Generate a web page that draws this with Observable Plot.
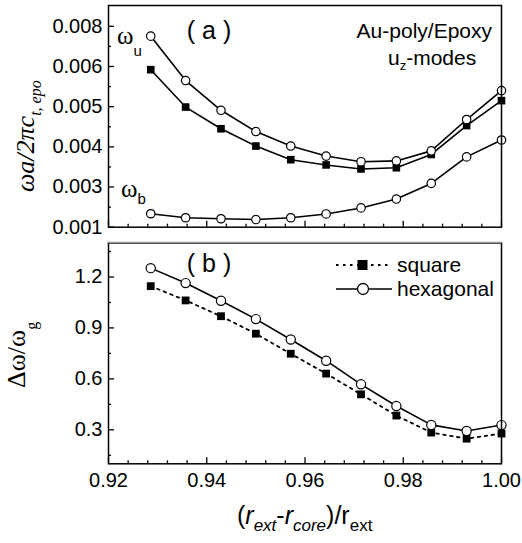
<!DOCTYPE html>
<html><head><meta charset="utf-8">
<script src="https://cdn.jsdelivr.net/npm/d3@7"></script>
<script src="https://cdn.jsdelivr.net/npm/@observablehq/plot@0.6"></script>
<style>
html,body{margin:0;padding:0;background:#fff;}
#chart svg{display:block;}
</style></head><body><div id="chart"></div>
<script>
// ---- data ----
const xValues = [0.9286, 0.9357, 0.9429, 0.9500, 0.9571, 0.9643, 0.9714, 0.9786, 0.9857, 0.9929, 1.0000];
const omegaUOpen   = [0.00751, 0.00565, 0.00491, 0.00438, 0.00402, 0.00377, 0.00363, 0.00365, 0.00390, 0.00468, 0.00540];
const omegaUSquare = [0.00592, 0.00499, 0.00445, 0.00402, 0.00368, 0.00355, 0.00345, 0.00348, 0.00381, 0.00453, 0.00515];
const omegaB       = [0.00167, 0.00147, 0.00142, 0.00138, 0.00147, 0.00166, 0.00196, 0.00240, 0.00309, 0.00375, 0.00417];
const squareDelta  = [1.146, 1.062, 0.969, 0.866, 0.748, 0.631, 0.509, 0.384, 0.284, 0.248, 0.278];
const hexDelta     = [1.252, 1.164, 1.060, 0.952, 0.832, 0.707, 0.568, 0.440, 0.329, 0.293, 0.328];

const topYTicks = [0.001, 0.003, 0.004, 0.005, 0.006, 0.008];
const topYTickLabels = ["0.001", "0.003", "0.004", "0.005", "0.006", "0.008"];
const topYMinorTicks = [0.002, 0.0035, 0.0045, 0.0055, 0.007];
const bottomYTicks = [0.3, 0.6, 0.9, 1.2];
const bottomYTickLabels = ["0.3", "0.6", "0.9", "1.2"];
const bottomYMinorTicks = [0.15, 0.45, 0.75, 1.05, 1.35];
const xTicks = [0.92, 0.94, 0.96, 0.98, 1.00];
const xTickLabels = ["0.92", "0.94", "0.96", "0.98", "1.00"];
const xMinorTicks = d3.range(0, 21).map(i => 0.92 + i * 0.004).filter((v, i) => i % 5 !== 0);
const seriesNames = ["square", "hexagonal"];

// ---- layout ----
const W = 522, ML = 108, MR = 21;
const topH = 238, topMT = 5, topMB = 11.3, topInsetTop = 20.8;
const botH = 543 - topH, botMT = 4.5, botMB = 79.7;
const SANS = "'Liberation Sans', Arial, Helvetica, sans-serif";
const SERIF = "'Liberation Serif', 'Times New Roman', serif";

const topData = xValues.map((x, i) => ({x, u: omegaUOpen[i], s: omegaUSquare[i], b: omegaB[i]}));
const botData = xValues.map((x, i) => ({x, sq: squareDelta[i], hx: hexDelta[i]}));
const fmt = (ticks, labels) => d => labels[ticks.findIndex(t => Math.abs(t - d) < 1e-9)];

const baseStyle = {fontFamily: SANS, fontSize: "20px", color: "#000", background: "#fff"};

const topPlot = Plot.plot({
  width: W, height: topH, marginTop: topMT, marginBottom: topMB, marginLeft: ML, marginRight: MR,
  style: baseStyle,
  x: {domain: [0.92, 1.0]},
  y: {type: "linear", domain: topYTicks, insetTop: topInsetTop},
  marks: [
    Plot.axisY({ticks: topYTicks, tickSize: -6, tickPadding: 12, tickFormat: fmt(topYTicks, topYTickLabels), label: null, strokeWidth: 1.3}),
    Plot.axisY({ticks: topYMinorTicks, tickSize: -3, tickFormat: () => "", label: null, strokeWidth: 1.3}),
    Plot.axisX({ticks: xTicks, tickSize: -6, tickFormat: () => "", label: null, strokeWidth: 1.3}),
    Plot.axisX({ticks: xMinorTicks, tickSize: -3, tickFormat: () => "", label: null, strokeWidth: 1.3}),
    Plot.line(topData, {x: "x", y: "u", stroke: "#000", strokeWidth: 1.6}),
    Plot.line(topData, {x: "x", y: "s", stroke: "#000", strokeWidth: 1.6}),
    Plot.line(topData, {x: "x", y: "b", stroke: "#000", strokeWidth: 1.6}),
    Plot.dot(topData, {x: "x", y: "s", symbol: "square", r: 4.3, fill: "#000", stroke: "none"}),
    Plot.dot(topData, {x: "x", y: "u", symbol: "circle", r: 4.2, fill: "#fff", stroke: "#000", strokeWidth: 1.2}),
    Plot.dot(topData, {x: "x", y: "b", symbol: "circle", r: 4.2, fill: "#fff", stroke: "#000", strokeWidth: 1.2}),
    Plot.frame({stroke: "#000", strokeWidth: 1.5})
  ]
});

const botPlot = Plot.plot({
  width: W, height: botH, marginTop: botMT, marginBottom: botMB, marginLeft: ML, marginRight: MR,
  style: baseStyle,
  x: {domain: [0.92, 1.0]},
  y: {domain: [0.1, 1.4]},
  marks: [
    Plot.axisY({ticks: bottomYTicks, tickSize: -6, tickPadding: 12, tickFormat: fmt(bottomYTicks, bottomYTickLabels), label: null, strokeWidth: 1.3}),
    Plot.axisY({ticks: bottomYMinorTicks, tickSize: -3, tickFormat: () => "", label: null, strokeWidth: 1.3}),
    Plot.axisX({ticks: xTicks, tickSize: -6, tickPadding: 14.5, tickFormat: fmt(xTicks, xTickLabels), label: null, strokeWidth: 1.3}),
    Plot.axisX({ticks: xMinorTicks, tickSize: -3, tickFormat: () => "", label: null, strokeWidth: 1.3}),
    Plot.line(botData, {x: "x", y: "sq", stroke: "#000", strokeWidth: 1.8, strokeDasharray: "2.5,4.5"}),
    Plot.line(botData, {x: "x", y: "hx", stroke: "#000", strokeWidth: 1.6}),
    Plot.dot(botData, {x: "x", y: "sq", symbol: "square", r: 4.4, fill: "#000", stroke: "none"}),
    Plot.dot(botData, {x: "x", y: "hx", symbol: "circle", r: 4.6, fill: "#fff", stroke: "#000", strokeWidth: 1.2}),
    Plot.frame({stroke: "#000", strokeWidth: 1.5})
  ]
});

const chart = document.getElementById("chart");
chart.appendChild(topPlot);
chart.appendChild(botPlot);

const addText = (sel, attrs) => {
  const t = sel.append("text").attr("text-anchor", "start").attr("fill", "#000").attr("font-family", SANS);
  Object.entries(attrs).forEach(([k, v]) => t.attr(k, v));
  return t;
};

// ---- annotations on top panel ----
const ts = d3.select(topPlot);
addText(ts, {x: 209, y: 39, "text-anchor": "middle", "font-size": 25}).text("( a )");
addText(ts, {x: 492, y: 38, "text-anchor": "end", "font-size": 21}).text("Au-poly/Epoxy");
{
  const t = addText(ts, {x: 388, y: 65, "font-size": 21});
  t.append("tspan").text("u");
  t.append("tspan").attr("font-size", 13).attr("dy", 5).text("z");
  t.append("tspan").attr("dy", -5).text("-modes");
}
{
  const t = addText(ts, {x: 117, y: 44, "font-family": SERIF, "font-size": 25});
  t.append("tspan").text("ω");
  t.append("tspan").attr("font-family", SANS).attr("font-size", 15).attr("dy", 12).text("u");
}
{
  const t = addText(ts, {x: 121, y: 197, "font-family": SERIF, "font-size": 25});
  t.append("tspan").text("ω");
  t.append("tspan").attr("font-family", SANS).attr("font-size", 15).attr("dy", 7).text("b");
}
{
  const t = addText(ts, {transform: "translate(34,192) rotate(-90)", "font-family": SERIF, "font-style": "italic", "font-size": 26});
  t.append("tspan").text("ωa/2πc");
  t.append("tspan").attr("font-size", 16).attr("dy", 7).text("t, epo");
}

// ---- annotations on bottom panel ----
const bs = d3.select(botPlot);
// lighter top edge of panel (b), as in the reference
bs.append("line").attr("x1", ML - 0.75).attr("x2", W - MR + 0.75).attr("y1", botMT).attr("y2", botMT)
  .attr("stroke", "#999").attr("stroke-width", 1.6);
addText(bs, {x: 209, y: 34, "text-anchor": "middle", "font-size": 25}).text("( b )");
{
  const t = addText(bs, {transform: "translate(25,150) rotate(-90)", "font-family": SERIF, "font-size": 26});
  t.append("tspan").text("Δω/ω");
  t.append("tspan").attr("font-size", 16).attr("dy", 12).text("g");
}
{
  const t = addText(bs, {x: 237, y: 286, "font-size": 25});
  t.append("tspan").text("(");
  t.append("tspan").attr("font-style", "italic").text("r");
  t.append("tspan").attr("font-style", "italic").attr("font-size", 17).attr("dy", 7).text("ext");
  t.append("tspan").attr("dy", -7).text("-");
  t.append("tspan").attr("font-style", "italic").text("r");
  t.append("tspan").attr("font-style", "italic").attr("font-size", 17).attr("dy", 7).text("core");
  t.append("tspan").attr("dy", -7).text(")/r");
  t.append("tspan").attr("font-size", 17).attr("dy", 7).text("ext");
}
// legend
{
  const g = bs.append("g");
  const rows = [{name: seriesNames[0], y: 27, dash: "2.5,4.5", sw: 1.8}, {name: seriesNames[1], y: 51, dash: null, sw: 1.6}];
  rows.forEach((r, i) => {
    g.append("line").attr("x1", 336).attr("x2", 392).attr("y1", r.y).attr("y2", r.y)
      .attr("stroke", "#000").attr("stroke-width", r.sw).attr("stroke-dasharray", r.dash);
    if (i === 0) g.append("rect").attr("x", 357.5).attr("y", r.y - 5).attr("width", 10).attr("height", 10).attr("fill", "#000");
    else g.append("circle").attr("cx", 363).attr("cy", r.y).attr("r", 5.5).attr("fill", "#fff").attr("stroke", "#000").attr("stroke-width", 1.3);
    addText(g, {x: 397, y: r.y + 7, "font-size": 21}).text(r.name);
  });
}
</script></body></html>
